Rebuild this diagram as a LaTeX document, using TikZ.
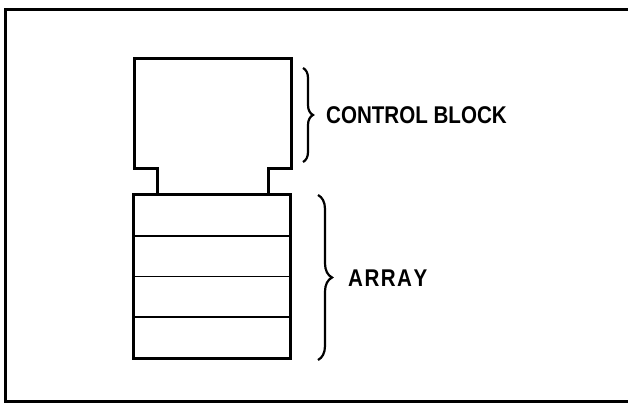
\documentclass[tikz,border=0pt]{standalone}
\usepackage{fontspec}
\setmainfont{Liberation Sans}[FakeStretch=0.85]
\usepackage{tikz}
\usetikzlibrary{
    positioning,
    decorations.pathreplacing
}
\tikzset{
    frame line/.style={line width=3pt},
    block outline/.style={line width=3pt, line join=miter},
    cell/.style={
        rectangle, draw, line width=1.6pt,
        minimum width=157pt, minimum height=40.75pt,
        inner sep=0pt, outer sep=0pt
    },
    block brace/.style={
        decorate, decoration={brace, amplitude=#1}, line width=2.2pt
    },
    block brace/.default={10pt},
    brace label/.style={
        inner sep=0pt, anchor=west, font=\fontsize{24.2}{27}\selectfont\bfseries
    },
}

\begin{document}
\begin{tikzpicture}[x=1pt, y=-1pt]
    \useasboundingbox (0,0) rectangle (628,403);

    % outer frame (right edge is cut off)
    \draw[frame line] (628,10) -- (5,10) -- (5,401) -- (628,401);

    % array cells
    \node[cell, anchor=north west] (cell1) at (133,195) {};
    \node[cell, below=0pt of cell1] (cell2) {};
    \node[cell, below=0pt of cell2] (cell3) {};
    \node[cell, below=0pt of cell3] (cell4) {};
    \draw[block outline] (cell1.north west) rectangle (cell4.south east);

    % control block with neck
    \draw[block outline]
        (157,195) -- (157,169) -- (134,169) -- (134,59) -- (291,59)
        -- (291,169) -- (268,169) -- (268,195);

    % braces
    \coordinate (cbtop) at (303,68);
    \coordinate (cbbot) at (303,162);
    \coordinate (cbtip) at (314,115);
    \draw[block brace] (cbtop) -- (cbbot);
    \node[brace label, right=12pt of cbtip] (cblabel) {CONTROL BLOCK};

    \coordinate (artop) at (318,195);
    \coordinate (arbot) at (318,360);
    \coordinate (artip) at (334,278);
    \draw[block brace=14pt] (artop) -- (arbot);
    \node[brace label, right=14pt of artip] (arlabel) {A\kern1.5ptR\kern1.5ptR\kern1.5ptA\kern1.5ptY};
\end{tikzpicture}
\end{document}
